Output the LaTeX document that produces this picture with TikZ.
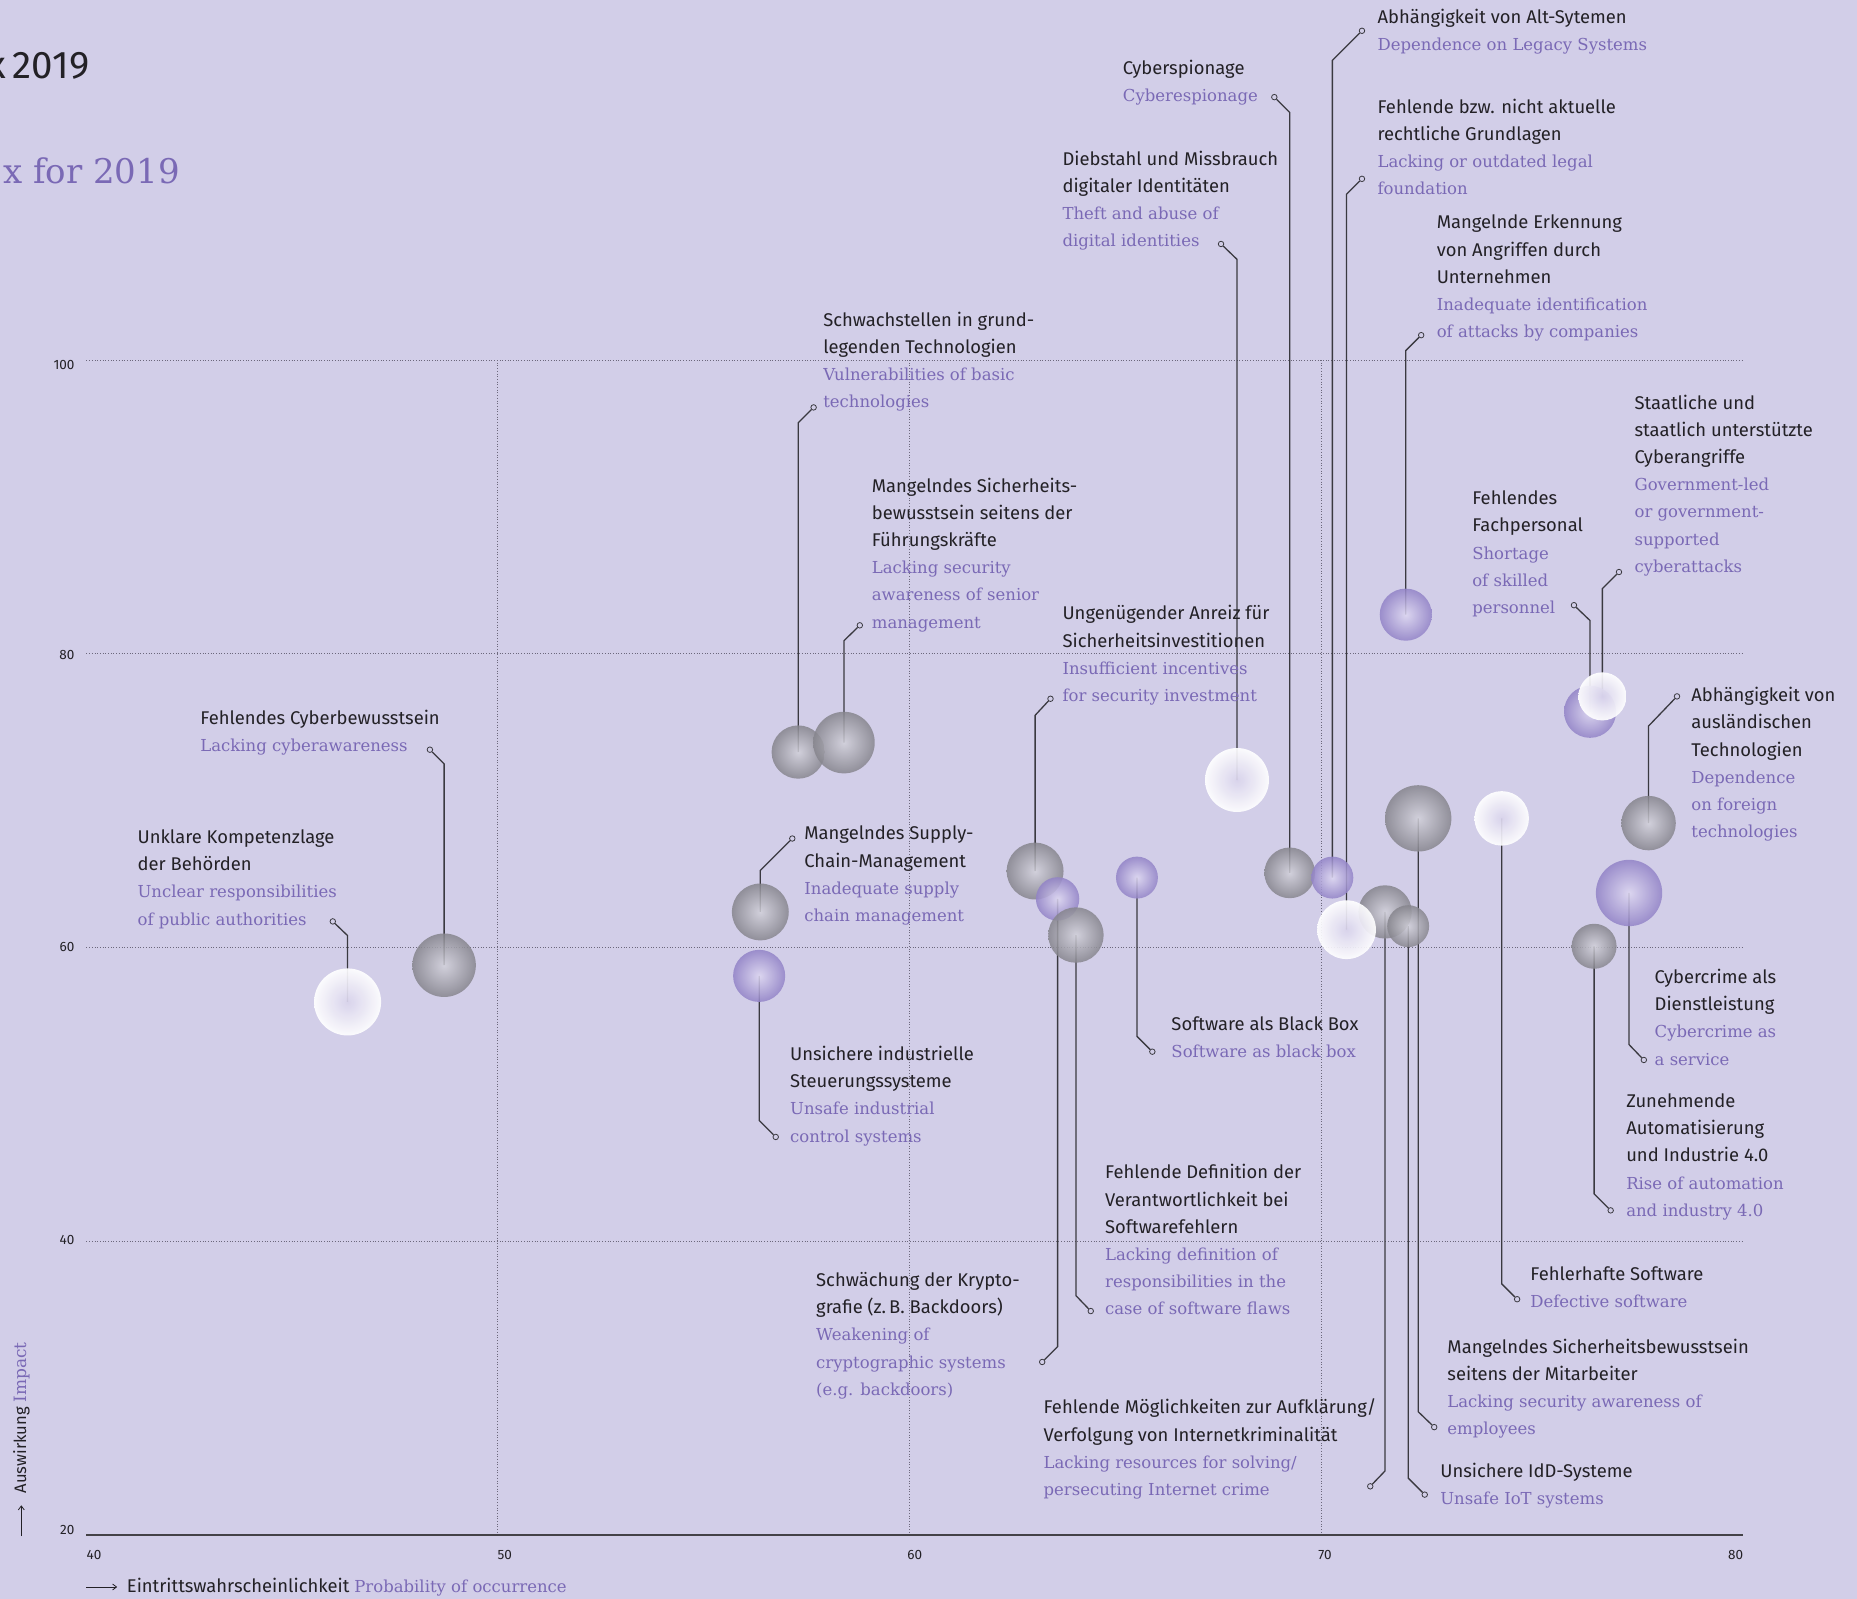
\documentclass[tikz,border=0pt]{standalone}
\usepackage{fontspec}
\usetikzlibrary{arrows.meta}
\setmainfont{Fira Sans}
\newfontfamily\defont{Fira Sans}
\newfontfamily\enfont{DejaVu Serif}
\definecolor{bgc}{HTML}{D2CEE8}
\definecolor{txt}{HTML}{232126}
\definecolor{enc}{HTML}{7A69B5}
\definecolor{lnc}{HTML}{3A3940}
\definecolor{grc}{HTML}{6C687C}
\definecolor{gin}{HTML}{D2D1DA}
\definecolor{gout}{HTML}{86858D}
\definecolor{pin}{HTML}{DDD7F1}
\definecolor{pout}{HTML}{9283C7}
\definecolor{win}{HTML}{D9D4EC}
\definecolor{wout}{HTML}{FFFFFF}
\newcommand\LDe{\defont\fontsize{18.4}{27.2}\selectfont\color{txt}}
\newcommand\LEn{\enfont\fontsize{16.5}{27.2}\selectfont\color{enc}}
\newcommand\fst{\rule{0pt}{14pt}}
\pgfdeclarelayer{back}
\pgfdeclarelayer{lines}
\pgfsetlayers{back,lines,main}
\begin{document}
\begin{tikzpicture}[x=1.1843pt,y=-1.1843pt,
 lab/.style={anchor=north west, inner sep=0pt, align=left, font=\LDe},
 bub/.style={circle, inner sep=0pt, minimum size=2.3686pt*#1, fill opacity=0.86, shading=radial},
 bgray/.style={bub=#1, inner color=gin, outer color=gout},
 bpurp/.style={bub=#1, inner color=pin, outer color=pout},
 bwhite/.style={bub=#1, inner color=win, outer color=wout, fill opacity=0.92},
 dot/.style={circle, inner sep=0pt, minimum size=5.5pt, draw=lnc, line width=0.8pt, fill=bgc},
 cline/.style={draw=lnc, line width=1.3pt},
 gridl/.style={draw=grc, line width=0.8pt, dash pattern=on 0.9pt off 1.8pt},
 tick/.style={inner sep=0pt, font=\defont\fontsize{13.5}{16}\selectfont\color{txt}},
 axarrow/.style={draw=txt, line width=0.8pt, -{Straight Barb[length=4pt,width=6pt]}},
]
\useasboundingbox (0,0) rectangle (1568,1350);
\begin{pgfonlayer}{back}
\fill[bgc] (0,0) rectangle (1568,1350);
\foreach \yy in {304,552,800,1048} \draw[gridl] (73,\yy) -- (1472,\yy);
\foreach \xx in {420,768,1116} \draw[gridl] (\xx,304) -- (\xx,1296);
\draw[draw=txt!85, line width=1.3pt] (73,1296) -- (1472,1296);
\end{pgfonlayer}

% titles
\node[anchor=base east, inner sep=0pt, font=\defont\fontsize{38.5}{42}\selectfont\color{txt}] (t1) at (75.5,66) {x\kern7pt2019};
\node[anchor=base west, inner sep=0pt, font=\enfont\fontsize{34}{40}\selectfont\color{enc}] (t2) at (2.5,155) {x for 2019};

% ticks
\node[tick, anchor=east] (y100) at (63,308) {100};
\node[tick, anchor=east] (y80) at (63,553) {80};
\node[tick, anchor=east] (y60) at (63,800) {60};
\node[tick, anchor=east] (y40) at (63,1047) {40};
\node[tick, anchor=east] (y20) at (63,1292) {20};
\node[tick, anchor=west] (x40) at (73,1313) {40};
\node[tick, anchor=west] (x50) at (420,1313) {50};
\node[tick, anchor=west] (x60) at (766,1313) {60};
\node[tick, anchor=west] (x70) at (1113,1313) {70};
\node[tick, anchor=west] (x80) at (1459,1313) {80};

% axis titles
\coordinate (xa1) at (73,1340);
\coordinate (xa2) at (99,1340);
\draw[axarrow] (xa1) -- (xa2);
\node[anchor=west, inner sep=0pt] (xlab) at (107,1340) {\LDe Eintrittswahrscheinlichkeit \LEn Probability of occurrence};
\coordinate (ya1) at (18,1297);
\coordinate (ya2) at (18,1271);
\draw[axarrow] (ya1) -- (ya2);
\node[rotate=90, anchor=west, inner sep=0pt] (ylab) at (18,1261) {\defont\fontsize{16.6}{20}\selectfont\color{txt}Auswirkung \enfont\fontsize{17}{20}\selectfont\color{enc}Impact};

% bubbles
\node[bwhite=28.3] (bA) at (293.5,846) {};
\node[bgray=26.8] (bB) at (375,815) {};
\node[bgray=22.5] (bC) at (674,635) {};
\node[bgray=26] (bD) at (712.6,627) {};
\node[bgray=24] (bE) at (642,770) {};
\node[bpurp=22] (bF) at (641,824) {};
\node[bgray=24] (bG) at (874,735.5) {};
\node[bpurp=18.3] (bH) at (893,759) {};
\node[bgray=23.4] (bI) at (908.5,789.5) {};
\node[bpurp=17.7] (bJ) at (960,741) {};
\node[bwhite=27] (bK) at (1044.5,658.6) {};
\node[bgray=21.4] (bL) at (1089,737) {};
\node[bpurp=17.7] (bM) at (1125,741) {};
\node[bgray=22.5] (bP) at (1169.5,770) {};
\node[bgray=17.7] (bQ) at (1189,782) {};
\node[bwhite=24.8] (bN) at (1137,785) {};
\node[bgray=28] (bO) at (1197.5,691) {};
\node[bpurp=22] (bR) at (1187,519) {};
\node[bwhite=23] (bS) at (1268,691) {};
\node[bpurp=22] (bT) at (1342.6,601) {};
\node[bwhite=20.3] (bU) at (1353,588) {};
\node[bgray=23] (bV) at (1392,695) {};
\node[bpurp=28] (bW) at (1375.5,754) {};
\node[bgray=19] (bX) at (1346,799) {};

% bends and dots
\coordinate (kA) at (293.5,790);  \node[dot] (dA) at (281,778) {};
\coordinate (kB) at (375,645);    \node[dot] (dB) at (363,633) {};
\coordinate (kC) at (674,357);    \node[dot] (dC) at (687,344) {};
\coordinate (kD) at (712.6,541);  \node[dot] (dD) at (726,528) {};
\coordinate (kE) at (642,735);    \node[dot] (dE) at (669,708) {};
\coordinate (kF) at (641,946);    \node[dot] (dF) at (655,960) {};
\coordinate (kG) at (874,604);    \node[dot] (dG) at (887,590) {};
\coordinate (kH) at (893,1137);   \node[dot] (dH) at (880,1150) {};
\coordinate (kI) at (908.5,1094); \node[dot] (dI) at (921,1107) {};
\coordinate (kJ) at (960,875);    \node[dot] (dJ) at (973,888) {};
\coordinate (kK) at (1044.5,219); \node[dot] (dK) at (1031,206) {};
\coordinate (kL) at (1089,95);    \node[dot] (dL) at (1076,82) {};
\coordinate (kM) at (1125,51);    \node[dot] (dM) at (1150,26) {};
\coordinate (kN) at (1137,164);   \node[dot] (dN) at (1150,151) {};
\coordinate (kO) at (1197.5,1192);\node[dot] (dO) at (1211,1205) {};
\coordinate (kP) at (1169.5,1242);\node[dot] (dP) at (1157,1255) {};
\coordinate (kQ) at (1189,1248);  \node[dot] (dQ) at (1203,1262) {};
\coordinate (kR) at (1187,296);   \node[dot] (dR) at (1200,283) {};
\coordinate (kS) at (1268,1084);  \node[dot] (dS) at (1281,1097) {};
\coordinate (kT) at (1342.6,524); \node[dot] (dT) at (1329,511) {};
\coordinate (kU) at (1353,497);   \node[dot] (dU) at (1367,483) {};
\coordinate (kV) at (1392,613);   \node[dot] (dV) at (1416,588) {};
\coordinate (kW) at (1375.5,882); \node[dot] (dW) at (1388,895) {};
\coordinate (kX) at (1346,1008);  \node[dot] (dX) at (1360,1022) {};

\begin{pgfonlayer}{lines}
\foreach \i in {A,B,C,D,E,F,G,H,I,J,K,L,M,N,O,P,Q,R,S,T,U,V,W,X}
  \draw[cline] (b\i.center) -- (k\i) -- (d\i);
\end{pgfonlayer}

% labels
\node[lab] (lA) at (116,700.2) {\fst Unklare Kompetenzlage\\der Behörden\\\LEn Unclear responsibilities\\\LEn of public authorities};
\node[lab] (lB) at (169,599.2) {\fst Fehlendes Cyberbewusstsein\\\LEn Lacking cyberawareness};
\node[lab] (lC) at (695,263.2) {\fst Schwachstellen in grund-\\legenden Technologien\\\LEn Vulnerabilities of basic\\\LEn technologies};
\node[lab] (lD) at (736,403.2) {\fst Mangelndes Sicherheits-\\bewusstsein seitens der\\Führungskräfte\\\LEn Lacking security\\\LEn awareness of senior\\\LEn management};
\node[lab] (lE) at (679,697.2) {\fst Mangelndes Supply-\\Chain-Management\\\LEn Inadequate supply\\\LEn chain management};
\node[lab] (lF) at (667,883.2) {\fst Unsichere industrielle\\Steuerungssysteme\\\LEn Unsafe industrial\\\LEn control systems};
\node[lab] (lG) at (897,511.2) {\fst Ungenügender Anreiz für\\Sicherheitsinvestitionen\\\LEn Insufficient incentives\\\LEn for security investment};
\node[lab] (lH) at (689,1074.2) {\fst Schwächung der Krypto-\\grafie (z.\,B. Backdoors)\\\LEn Weakening of\\\LEn cryptographic systems\\\LEn (e.g. backdoors)};
\node[lab] (lI) at (933,983.2) {\fst Fehlende Definition der\\Verantwortlichkeit bei\\Softwarefehlern\\\LEn Lacking definition of\\\LEn responsibilities in the\\\LEn case of software flaws};
\node[lab] (lJ) at (989,858.2) {\fst Software als Black Box\\\LEn Software as black box};
\node[lab] (lK) at (897,127.2) {\fst Diebstahl und Missbrauch\\digitaler Identitäten\\\LEn Theft and abuse of\\\LEn digital identities};
\node[lab] (lL) at (948,50.2) {\fst Cyberspionage\\\LEn Cyberespionage};
\node[lab] (lM) at (1163,7.2) {\fst Abhängigkeit von Alt-Sytemen\\\LEn Dependence on Legacy Systems};
\node[lab] (lN) at (1163,83.2) {\fst Fehlende bzw. nicht aktuelle\\rechtliche Grundlagen\\\LEn Lacking or outdated legal\\\LEn foundation};
\node[lab] (lO) at (1222,1130.2) {\fst Mangelndes Sicherheitsbewusstsein\\seitens der Mitarbeiter\\\LEn Lacking security awareness of\\\LEn employees};
\node[lab] (lP) at (881,1181.2) {\fst Fehlende Möglichkeiten zur Aufklärung/\\Verfolgung von Internetkriminalität\\\LEn Lacking resources for solving/\\\LEn persecuting Internet crime};
\node[lab] (lQ) at (1216,1235.2) {\fst Unsichere IdD-Systeme\\\LEn Unsafe IoT systems};
\node[lab] (lR) at (1213,181.2) {\fst Mangelnde Erkennung\\von Angriffen durch\\Unternehmen\\\LEn Inadequate identification\\\LEn of attacks by companies};
\node[lab] (lS) at (1292,1069.2) {\fst Fehlerhafte Software\\\LEn Defective software};
\node[lab] (lT) at (1243,414.2) {\fst Fehlendes\\Fachpersonal\\\LEn Shortage\\\LEn of skilled\\\LEn personnel};
\node[lab] (lU) at (1380,333.2) {\fst Staatliche und\\staatlich unterstützte\\Cyberangriffe\\\LEn Government-led\\\LEn or government-\\\LEn supported\\\LEn cyberattacks};
\node[lab] (lV) at (1428,580.2) {\fst Abhängigkeit von\\ausländischen\\Technologien\\\LEn Dependence\\\LEn on foreign\\\LEn technologies};
\node[lab] (lW) at (1397,818.2) {\fst Cybercrime als\\Dienstleistung\\\LEn Cybercrime as\\\LEn a service};
\node[lab] (lX) at (1373,923.2) {\fst Zunehmende\\Automatisierung\\und Industrie 4.0\\\LEn Rise of automation\\\LEn and industry 4.0};
\end{tikzpicture}
\end{document}
